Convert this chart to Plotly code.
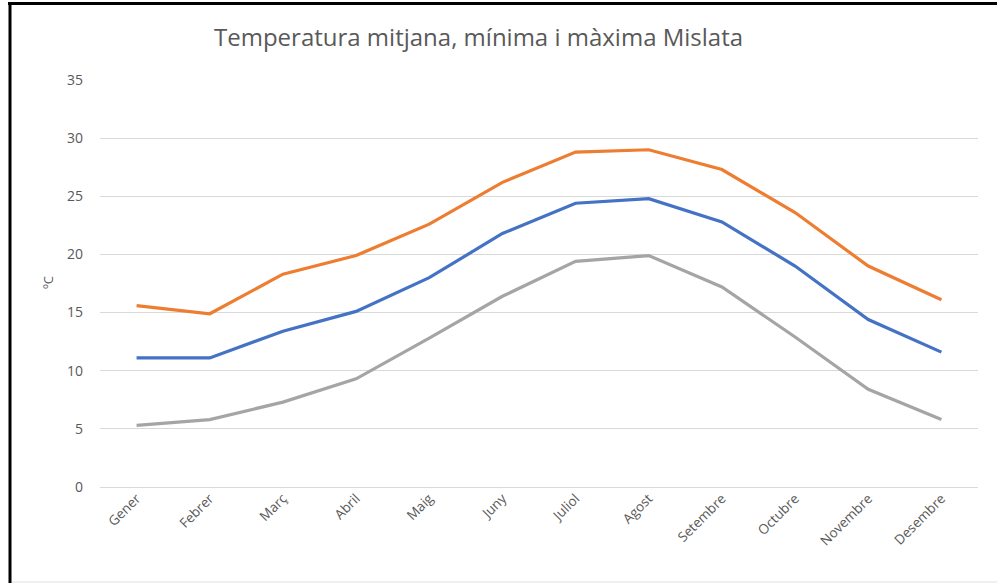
import plotly.graph_objects as go

months = ["Gener", "Febrer", "Març", "Abril", "Maig", "Juny", "Juliol",
          "Agost", "Setembre", "Octubre", "Novembre", "Desembre"]
t_max = [15.6, 14.9, 18.3, 19.9, 22.6, 26.2, 28.8, 29.0, 27.3, 23.6, 19.0, 16.1]
t_mean = [11.1, 11.1, 13.4, 15.1, 18.0, 21.8, 24.4, 24.8, 22.8, 19.0, 14.4, 11.6]
t_min = [5.3, 5.8, 7.3, 9.3, 12.8, 16.4, 19.4, 19.9, 17.2, 12.9, 8.4, 5.8]
y_ticks = [0, 5, 10, 15, 20, 25, 30, 35]

W, H = 997, 583
L, R, T, B = 100, 19, 80, 96
pw, ph = W - L - R, H - T - B

def px(x):
    return (x - L) / pw

def py(y):
    return (H - B - y) / ph

fig = go.Figure()
for name, vals, col in [("Mínima", t_min, "#A5A5A5"),
                        ("Mitjana", t_mean, "#4472C4"),
                        ("Màxima", t_max, "#ED7D31")]:
    fig.add_trace(go.Scatter(x=months, y=vals, mode="lines", name=name,
                             line=dict(color=col, width=3.2)))

fig.update_layout(
    width=W, height=H,
    margin=dict(l=L, r=R, t=T, b=B),
    paper_bgcolor="white", plot_bgcolor="white",
    showlegend=False,
    font=dict(family="Open Sans", color="#595959"),
    xaxis=dict(range=[-0.5, 11.5], tickangle=-45, showgrid=False,
               showline=False, ticks="", tickfont=dict(size=13.5, color="#595959")),
    yaxis=dict(range=[0, 35], tickvals=y_ticks, gridcolor="#D9D9D9",
               gridwidth=1, zeroline=True, zerolinecolor="#D9D9D9",
               zerolinewidth=1, showline=False, ticks="",
               ticklabelstandoff=16,
               tickfont=dict(size=14, color="#595959")),
    annotations=[
        dict(text="Temperatura mitjana, mínima i màxima Mislata",
             xref="paper", yref="paper", x=px(478), y=py(36),
             xanchor="center", yanchor="middle", showarrow=False,
             font=dict(family="Open Sans", size=24, color="#595959")),
        dict(text="ºC", xref="paper", yref="paper", x=px(48), y=py(283),
             xanchor="center", yanchor="middle", showarrow=False,
             textangle=-90, font=dict(size=13, color="#595959")),
    ],
    shapes=[
        dict(type="line", xref="paper", yref="paper", x0=px(10), x1=px(10),
             y0=py(2), y1=py(583), line=dict(color="black", width=3)),
        dict(type="line", xref="paper", yref="paper", x0=px(8), x1=px(997),
             y0=py(3.5), y1=py(3.5), line=dict(color="black", width=3)),
        dict(type="line", xref="paper", yref="paper", x0=px(12), x1=px(997),
             y0=py(582), y1=py(582), line=dict(color="#E0E0E0", width=1)),
    ],
)

fig.write_html("out.html",
               config={"displayModeBar": False},
               post_script="document.body.style.margin='0';"
                           "document.body.style.overflow='hidden';")
